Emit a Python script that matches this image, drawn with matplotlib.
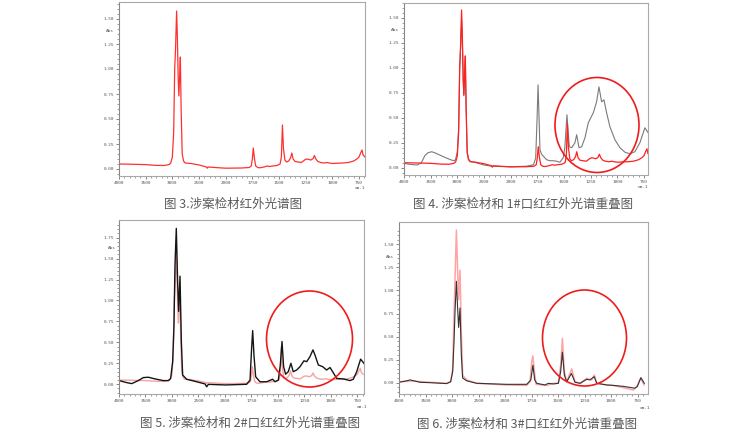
import numpy as np
import matplotlib
matplotlib.use('Agg')
import matplotlib.pyplot as plt
from matplotlib.patches import Ellipse
from matplotlib.ticker import FixedLocator, NullFormatter

plt.rcParams['font.family'] = ['Noto Sans CJK SC', 'DejaVu Sans']

# ---- 涉案检材 (sample) spectrum, used in fig 3/4/5 ----
sample_wn = [4000, 3800, 3500, 3300, 3150, 3060, 3030, 3000, 2975, 2956, 2940, 2920, 2905, 2890,
             2878, 2865, 2850, 2835, 2815, 2790, 2760, 2650, 2500, 2360, 2345, 2330, 2200, 2000,
             1850, 1780, 1760, 1750, 1741, 1730, 1718, 1700, 1680, 1640, 1610, 1590, 1560, 1520,
             1490, 1478, 1468, 1458, 1445, 1430, 1410, 1392, 1380, 1368, 1350, 1320, 1290, 1260,
             1240, 1220, 1200, 1180, 1168, 1155, 1135, 1110, 1080, 1050, 1030, 1000, 950, 900,
             850, 800, 770, 750, 735, 722, 712, 694]
sample_abs = [0.05, 0.048, 0.044, 0.036, 0.035, 0.045, 0.06, 0.12, 0.36, 1.0, 1.2, 1.58, 1.3, 0.9,
              0.73, 0.9, 1.12, 0.6, 0.15, 0.08, 0.06, 0.055, 0.04, 0.02, 0.008, 0.02, 0.015, 0.008,
              0.01, 0.015, 0.03, 0.1, 0.21, 0.1, 0.03, 0.015, 0.012, 0.02, 0.03, 0.025, 0.03, 0.035,
              0.05, 0.12, 0.44, 0.2, 0.09, 0.07, 0.08, 0.11, 0.16, 0.1, 0.075, 0.07, 0.065, 0.09,
              0.1, 0.095, 0.09, 0.105, 0.135, 0.1, 0.075, 0.065, 0.06, 0.065, 0.06, 0.055, 0.058, 0.06,
              0.065, 0.08, 0.1, 0.12, 0.16, 0.19, 0.14, 0.12]

# ---- 1#口红 ----
lip1_wn = [4000, 3880, 3750, 3675, 3610, 3550, 3480, 3425, 3300, 3200, 3100, 3050, 3030, 3000,
           2975, 2956, 2940, 2920, 2905, 2890, 2878, 2865, 2850, 2835, 2815, 2790, 2760, 2650,
           2500, 2360, 2345, 2330, 2200, 2000, 1850, 1785, 1765, 1752, 1743, 1735, 1725, 1710,
           1663, 1632, 1600, 1570, 1538, 1507, 1492, 1472, 1450, 1428, 1397, 1381, 1359, 1334,
           1303, 1272, 1225, 1194, 1172, 1147, 1125, 1100, 1069, 1022, 975, 928, 882, 835, 788,
           741, 710]
lip1_abs = [0.043, 0.033, 0.027, 0.05, 0.12, 0.15, 0.16, 0.15, 0.12, 0.096, 0.075, 0.07, 0.09,
            0.16, 0.4, 0.98, 1.2, 1.48, 1.25, 0.88, 0.72, 0.88, 1.09, 0.6, 0.16, 0.09, 0.065,
            0.05, 0.027, 0.015, 0.006, 0.015, 0.012, 0.01, 0.015, 0.03, 0.1, 0.5, 0.83, 0.55,
            0.18, 0.135, 0.08, 0.07, 0.07, 0.065, 0.055, 0.1, 0.2, 0.53, 0.21, 0.2, 0.25, 0.33,
            0.2, 0.21, 0.3, 0.45, 0.55, 0.66, 0.81, 0.66, 0.68, 0.55, 0.41, 0.28, 0.2, 0.155,
            0.14, 0.16, 0.25, 0.4, 0.35]

# ---- 2#口红 ----
lip2_wn = [4000, 3855, 3760, 3635, 3540, 3446, 3320, 3163, 3068, 3025, 2987, 2962, 2943, 2918,
           2893, 2874, 2848, 2823, 2798, 2722, 2534, 2376, 2345, 2313, 1993, 1795, 1763, 1748,
           1738, 1726, 1710, 1669, 1606, 1550, 1527, 1496, 1477, 1461, 1446, 1427, 1402, 1377,
           1355, 1323, 1291, 1254, 1228, 1197, 1169, 1150, 1118, 1077, 1040, 1008, 983, 945,
           882, 819, 788, 756, 719, 688]
lip2_abs = [0.044, 0.02, 0.008, 0.044, 0.08, 0.084, 0.064, 0.044, 0.044, 0.07, 0.27, 0.7, 1.42,
            1.86, 1.22, 0.87, 1.29, 0.51, 0.11, 0.06, 0.03, 0.004, -0.03, -0.001, -0.008, 0.0,
            0.05, 0.43, 0.64, 0.35, 0.09, 0.03, 0.03, 0.06, 0.03, 0.05, 0.23, 0.51, 0.21, 0.12,
            0.15, 0.25, 0.15, 0.17, 0.21, 0.28, 0.27, 0.33, 0.41, 0.35, 0.23, 0.21, 0.17, 0.2,
            0.15, 0.07, 0.064, 0.044, 0.06, 0.15, 0.30, 0.25]

# ---- 涉案检材 (re-scaled, fig 6) ----
sample2_wn = [4000, 3730, 3415, 3100, 3026, 2988, 2963, 2944, 2918, 2890, 2876, 2850, 2825, 2800,
              2724, 2536, 1989, 1796, 1765, 1749, 1738, 1724, 1708, 1608, 1545, 1498, 1476, 1460,
              1441, 1419, 1372, 1341, 1293, 1231, 1183, 1160, 1136, 1042, 979, 885, 791, 759,
              722, 690]
sample2_abs = [0.01, 0.018, 0.004, -0.007, 0.01, 0.15, 0.73, 1.13, 1.655, 1.13, 0.9, 1.22, 0.55,
               0.08, 0.03, -0.007, -0.025, -0.03, 0.01, 0.23, 0.29, 0.12, -0.018, -0.03, -0.007,
               -0.007, 0.19, 0.48, 0.12, 0.01, 0.15, 0.01, -0.007, 0.047, 0.03, 0.083, -0.007,
               -0.025, -0.03, -0.055, -0.08, -0.045, 0.05, -0.025]

# ---- 3#口红 ----
lip3_wn = [4000, 3855, 3793, 3604, 3415, 3101, 3026, 2988, 2963, 2944, 2918, 2894, 2876, 2850,
           2825, 2800, 2724, 2536, 1989, 1796, 1757, 1738, 1721, 1702, 1624, 1592, 1545, 1498,
           1476, 1460, 1441, 1419, 1375, 1341, 1293, 1231, 1200, 1160, 1136, 1042, 979, 885,
           778, 753, 720, 688]
lip3_abs = [0.004, 0.02, 0.03, 0.004, 0.0, -0.01, 0.01, 0.12, 0.44, 0.77, 1.10, 0.80, 0.60, 0.81,
            0.30, 0.05, 0.02, -0.007, -0.018, -0.018, 0.03, 0.19, 0.03, -0.007, -0.025, -0.007,
            -0.014, -0.007, 0.12, 0.33, 0.08, 0.01, 0.10, 0.004, -0.007, 0.036, 0.03, 0.065,
            -0.007, -0.025, -0.03, -0.04, -0.06, -0.04, 0.054, -0.007]

captions = ['图 3.涉案检材红外光谱图', '图 4. 涉案检材和 1#口红红外光谱重叠图',
            '图 5. 涉案检材和 2#口红红外光谱重叠图', '图 6. 涉案检材和 3#口红红外光谱重叠图']

major_x = [4000, 3500, 3000, 2500, 2000, 1750, 1500, 1250, 1000, 750]
minor_x = list(range(4000, 2000, -100)) + list(range(2000, 649, -50))


def fwd(x):
    x = np.asarray(x, dtype=float)
    return np.where(x < 2000, x, 2000 + (x - 2000) / 2)


def inv(y):
    y = np.asarray(y, dtype=float)
    return np.where(y < 2000, y, 2000 + (y - 2000) * 2)


W, H = 754, 432
fig = plt.figure(figsize=(W / 100, H / 100), dpi=100)


def px_axes(l, t, r, b):
    return fig.add_axes([l / W, 1 - b / H, (r - l) / W, (b - t) / H])


def setup(ax, xend, ylim, ymax_tick):
    ax.set_xscale('function', functions=(fwd, inv))
    ax.set_xlim(4000, xend)
    ax.set_ylim(*ylim)
    ax.xaxis.set_major_locator(FixedLocator(major_x))
    ax.xaxis.set_minor_locator(FixedLocator(minor_x))
    ax.xaxis.set_minor_formatter(NullFormatter())
    ax.set_xticklabels([str(v) for v in major_x])
    yt = np.arange(0, ymax_tick + 0.01, 0.25)
    ax.set_yticks(yt)
    ax.set_yticklabels(['%.2f' % v for v in yt])
    ax.yaxis.set_minor_locator(FixedLocator(np.arange(-0.1, ymax_tick + 0.2, 0.05)))
    ax.tick_params(which='major', length=2.2, width=0.5, pad=1.5, colors='#555555',
                   labelsize=3.2, labelfontfamily='DejaVu Sans Mono')
    ax.tick_params(which='minor', length=1.2, width=0.4, colors='#555555')
    for s in ax.spines.values():
        s.set_color('#a8a8a8')
        s.set_linewidth(0.8)
    ax.spines['left'].set_color('#888888')


def fig_text(x, y, s, **kw):
    fig.text(x / W, 1 - y / H, s, **kw)


# 图 3
ax1 = px_axes(119, 2, 365, 176)
setup(ax1, 694, (-0.07, 1.67), 1.5)
ax1.plot(sample_wn, sample_abs, color='#ff3030', lw=0.9)

# 图 4
ax2 = px_axes(404, 3, 648, 175)
setup(ax2, 712, (-0.073, 1.65), 1.5)
ax2.plot(lip1_wn, lip1_abs, color='#7a7a7a', lw=0.8)
ax2.plot(sample_wn, sample_abs, color='#ff2020', lw=0.9)

# 图 5
ax3 = px_axes(119, 220, 364, 394)
setup(ax3, 687, (-0.116, 1.96), 1.75)
ax3.plot(sample_wn, sample_abs, color='#f5a3a3', lw=1.0)
ax3.plot(lip2_wn, lip2_abs, color='#151515', lw=1.0)

# 图 6
ax4 = px_axes(399, 222, 648, 394)
setup(ax4, 653, (-0.123, 1.743), 1.5)
ax4.plot(sample2_wn, sample2_abs, color='#ffa3a3', lw=1.1)
ax4.plot(lip3_wn, lip3_abs, color='#333333', lw=0.8)

small = dict(fontsize=3.2, family='DejaVu Sans Mono', color='#555555', ha='center', va='center')
for x, y in [(110, 31), (395, 30), (112, 248), (390, 257)]:
    fig_text(x, y, 'Abs', **small)
for x, y in [(360, 188), (643, 187), (362, 407), (645, 408)]:
    fig_text(x, y, 'cm-1', **small)

cap = dict(fontsize=9, color='#5a5a5a', ha='center', va='center')
for (x, y), s in zip([(233, 204), (523, 204), (250, 423), (527, 424)], captions):
    fig_text(x, y, s, **cap)

for cx, cy, w, h in [(597, 125, 84, 95), (309.5, 339, 86, 96), (584.5, 338, 84, 96)]:
    fig.add_artist(Ellipse((cx / W, 1 - cy / H), w / W, h / H, transform=fig.transFigure,
                           fill=False, edgecolor='#ee1c1c', lw=1.2))

fig.savefig('out.png', dpi=100)
